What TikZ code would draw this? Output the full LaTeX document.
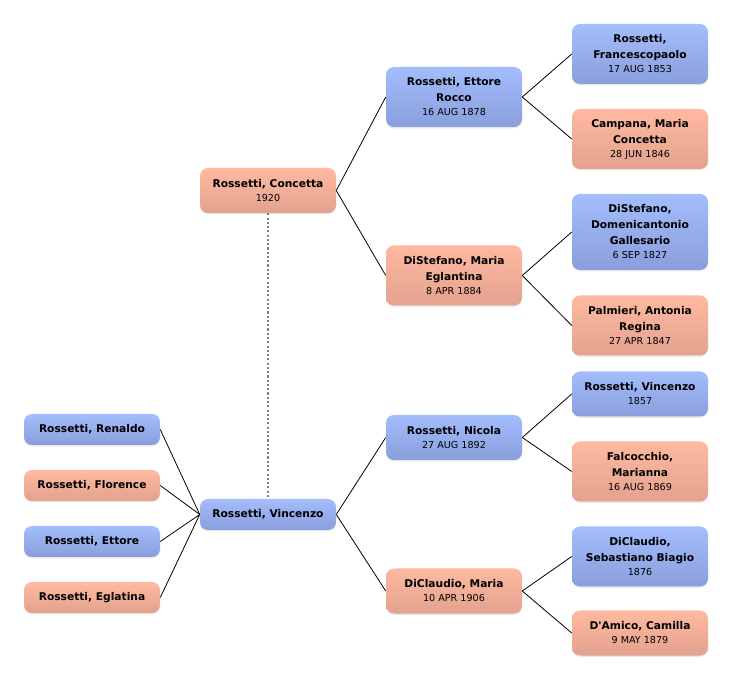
\documentclass[tikz,border=0pt]{standalone}
\usepackage{fontspec}
\newfontfamily\dv{DejaVu Sans}
\usetikzlibrary{shadows}
\definecolor{bluetop}{HTML}{A3BDFD}
\definecolor{bluebot}{HTML}{8A9EDC}
\definecolor{pinktop}{HTML}{FFB9A0}
\definecolor{pinkbot}{HTML}{E3A28F}
\newcommand{\dtf}{\fontsize{7.2pt}{12pt}\selectfont\mdseries}
\tikzset{
  person/.style={rectangle, rounded corners=6pt, minimum width=102pt, inner sep=0pt,
    align=center, font=\dv\fontsize{8pt}{12pt}\selectfont\bfseries,
    drop shadow={opacity=0.18, shadow xshift=0pt, shadow yshift=-1pt}},
  male/.style={person, top color=bluetop, bottom color=bluebot},
  female/.style={person, top color=pinktop, bottom color=pinkbot},
  hA/.style={minimum height=23.25pt},
  hB/.style={minimum height=33.75pt},
  hC/.style={minimum height=45pt},
  hD/.style={minimum height=57pt},
  link/.style={draw=black, line width=0.6pt},
  spouse/.style={draw=gray, line width=1.2pt, dash pattern=on 1.6pt off 1.6pt}
}
\begin{document}
\begin{tikzpicture}[x=0.75pt,y=-0.75pt]
\useasboundingbox (0,0) rectangle (732,680);
% left column
\node[male,hA]   (renaldo)  at (92,429.5) {Rossetti, Renaldo};
\node[female,hA] (florence) at (92,485.5) {Rossetti, Florence};
\node[male,hA]   (ettore)   at (92,541.5) {Rossetti, Ettore};
\node[female,hA] (eglatina) at (92,597.5) {Rossetti, Eglatina};
% second column
\node[female,hB] (concetta) at (268,190.5) {Rossetti, Concetta\\[-1.5pt]\dtf 1920};
\node[male,hA]   (vincenzo) at (268,514.5) {Rossetti, Vincenzo};
% third column
\node[male,hC]   (ettorer)  at (454,97) {Rossetti, Ettore\\Rocco\\[-1.5pt]\dtf 16 AUG 1878};
\node[female,hC] (maria)    at (454,275.5) {DiStefano, Maria\\Eglantina\\[-1.5pt]\dtf 8 APR 1884};
\node[male,hB]   (nicola)   at (454,437.5) {Rossetti, Nicola\\[-1.5pt]\dtf 27 AUG 1892};
\node[female,hB] (mariad)   at (454,591) {DiClaudio, Maria\\[-1.5pt]\dtf 10 APR 1906};
% fourth column
\node[male,hC]   (franc)    at (640,54) {Rossetti,\\Francescopaolo\\[-1.5pt]\dtf 17 AUG 1853};
\node[female,hC] (campana)  at (640,139) {Campana, Maria\\Concetta\\[-1.5pt]\dtf 28 JUN 1846};
\node[male,hD]   (domen)    at (640,232) {DiStefano,\\Domenicantonio\\Gallesario\\[-1.5pt]\dtf 6 SEP 1827};
\node[female,hC] (palmieri) at (640,325.5) {Palmieri, Antonia\\Regina\\[-1.5pt]\dtf 27 APR 1847};
\node[male,hB]   (vinc57)   at (640,394) {Rossetti, Vincenzo\\[-1.5pt]\dtf 1857};
\node[female,hC] (falco)    at (640,471.5) {Falcocchio,\\Marianna\\[-1.5pt]\dtf 16 AUG 1869};
\node[male,hC]   (sebast)   at (640,556.5) {DiClaudio,\\Sebastiano Biagio\\[-1.5pt]\dtf 1876};
\node[female,hB] (damico)   at (640,633) {D'Amico, Camilla\\[-1.5pt]\dtf 9 MAY 1879};
% connectors
\draw[spouse] (concetta.south) -- (vincenzo.north);
\foreach \c in {renaldo,florence,ettore,eglatina}
  \draw[link] (\c.east) -- (vincenzo.west);
\draw[link] (concetta.east) -- (ettorer.west);
\draw[link] (concetta.east) -- (maria.west);
\draw[link] (vincenzo.east) -- (nicola.west);
\draw[link] (vincenzo.east) -- (mariad.west);
\draw[link] (ettorer.east) -- (franc.west);
\draw[link] (ettorer.east) -- (campana.west);
\draw[link] (maria.east) -- (domen.west);
\draw[link] (maria.east) -- (palmieri.west);
\draw[link] (nicola.east) -- (vinc57.west);
\draw[link] (nicola.east) -- (falco.west);
\draw[link] (mariad.east) -- (sebast.west);
\draw[link] (mariad.east) -- (damico.west);
\end{tikzpicture}
\end{document}
